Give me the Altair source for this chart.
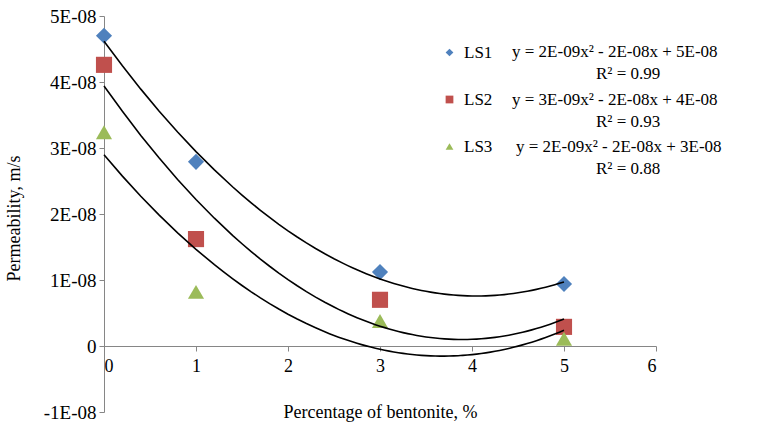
import altair as alt
import pandas as pd

# ---- data ----
series = ["LS1", "LS2", "LS3"]
bentonite = [0, 1, 3, 5]
ls1 = [4.70e-8, 2.79e-8, 1.12e-8, 0.94e-8]
ls2 = [4.26e-8, 1.62e-8, 0.70e-8, 0.29e-8]
ls3 = [3.24e-8, 0.82e-8, 0.38e-8, 0.11e-8]
equations = [
    "y = 2E-09x² - 2E-08x + 5E-08",
    "y = 3E-09x² - 2E-08x + 4E-08",
    "y = 2E-09x² - 2E-08x + 3E-08",
]
r2_labels = ["R² = 0.99", "R² = 0.93", "R² = 0.88"]
x_ticks = [0, 1, 2, 3, 4, 5, 6]
y_ticks = [-1e-8, 0, 1e-8, 2e-8, 3e-8, 4e-8, 5e-8]

colors = ["#4F81BD", "#C0504D", "#9BBB59"]
shapes = ["diamond", "square", "triangle-up"]

rows = []
for name, vals in zip(series, [ls1, ls2, ls3]):
    for xv, yv in zip(bentonite, vals):
        rows.append({"series": name, "x": xv, "y": yv})
df = pd.DataFrame(rows)

FONT = "Liberation Serif"
GRAY = "#868686"

xs = alt.Scale(domain=[0, 6], nice=False)
ys = alt.Scale(domain=[-1e-8, 5e-8], nice=False, zero=False)

base = alt.Chart(df)

points = base.mark_point(filled=True, opacity=1, size=260).encode(
    x=alt.X(
        "x:Q",
        scale=xs,
        axis=alt.Axis(
            values=x_ticks,
            format="d",
            offset=-66,
            grid=False,
            domainColor=GRAY,
            tickColor=GRAY,
            tickSize=5,
            labelFont=FONT,
            labelFontSize=18,
            labelColor="black",
            labelPadding=6,
            title="Percentage of bentonite, %",
            titleFont=FONT,
            titleFontSize=18,
            titleFontWeight="normal",
            titleColor="black",
            titleBaseline="alphabetic",
            titleY=71,
        ),
    ),
    y=alt.Y(
        "y:Q",
        scale=ys,
        axis=alt.Axis(
            values=y_ticks,
            grid=False,
            domainColor=GRAY,
            tickColor=GRAY,
            tickSize=5,
            labelFont=FONT,
            labelFontSize=19,
            labelColor="black",
            labelPadding=3,
            labelExpr="datum.value == 0 ? '0' : round(datum.value * 1e8) + 'E-08'",
            title="Permeability, m/s",
            titleFont=FONT,
            titleFontSize=18,
            titleFontWeight="normal",
            titleColor="black",
            titleAngle=270,
            titleBaseline="middle",
            titleX=-90,
            titleY=202,
        ),
    ),
    color=alt.Color(
        "series:N",
        scale=alt.Scale(domain=series, range=colors),
        legend=alt.Legend(
            title=None,
            orient="none",
            legendX=337,
            legendY=28,
            labelFont=FONT,
            labelFontSize=17,
            labelColor="black",
            symbolSize=60,
            labelOffset=6,
            rowPadding=29,
            symbolStrokeWidth=0,
        ),
    ),
    shape=alt.Shape("series:N", scale=alt.Scale(domain=series, range=shapes), legend=None),
)

trend = base.transform_regression(
    "x", "y", groupby=["series"], method="poly", order=2
).mark_line(color="black", strokeWidth=1.6).encode(
    x=alt.X("x:Q", scale=xs),
    y=alt.Y("y:Q", scale=ys),
    detail="series:N",
)

eq_layers = []
eq_y = [57, 105, 152]
r2_y = [79, 127, 174]
eq_x = [512, 512, 516]
for i in range(3):
    eq_layers.append(
        alt.Chart(pd.DataFrame({"t": [equations[i]]})).mark_text(
            font=FONT, fontSize=17, align="left", baseline="alphabetic", color="black"
        ).encode(text="t:N", x=alt.value(eq_x[i] - 104), y=alt.value(eq_y[i] - 16))
    )
    eq_layers.append(
        alt.Chart(pd.DataFrame({"t": [r2_labels[i]]})).mark_text(
            font=FONT, fontSize=17, align="left", baseline="alphabetic", color="black"
        ).encode(text="t:N", x=alt.value(596 - 104), y=alt.value(r2_y[i] - 16))
    )

chart = alt.layer(points, trend, *eq_layers).properties(
    width=552,
    height=396,
    autosize=alt.AutoSizeParams(type="none"),
    padding={"left": 104, "top": 16, "right": 101, "bottom": 13},
    background="white",
).configure_view(strokeWidth=0).configure_axis(labelFont=FONT, titleFont=FONT)

chart.save("out.html", embed_options={"renderer": "svg", "actions": False})
